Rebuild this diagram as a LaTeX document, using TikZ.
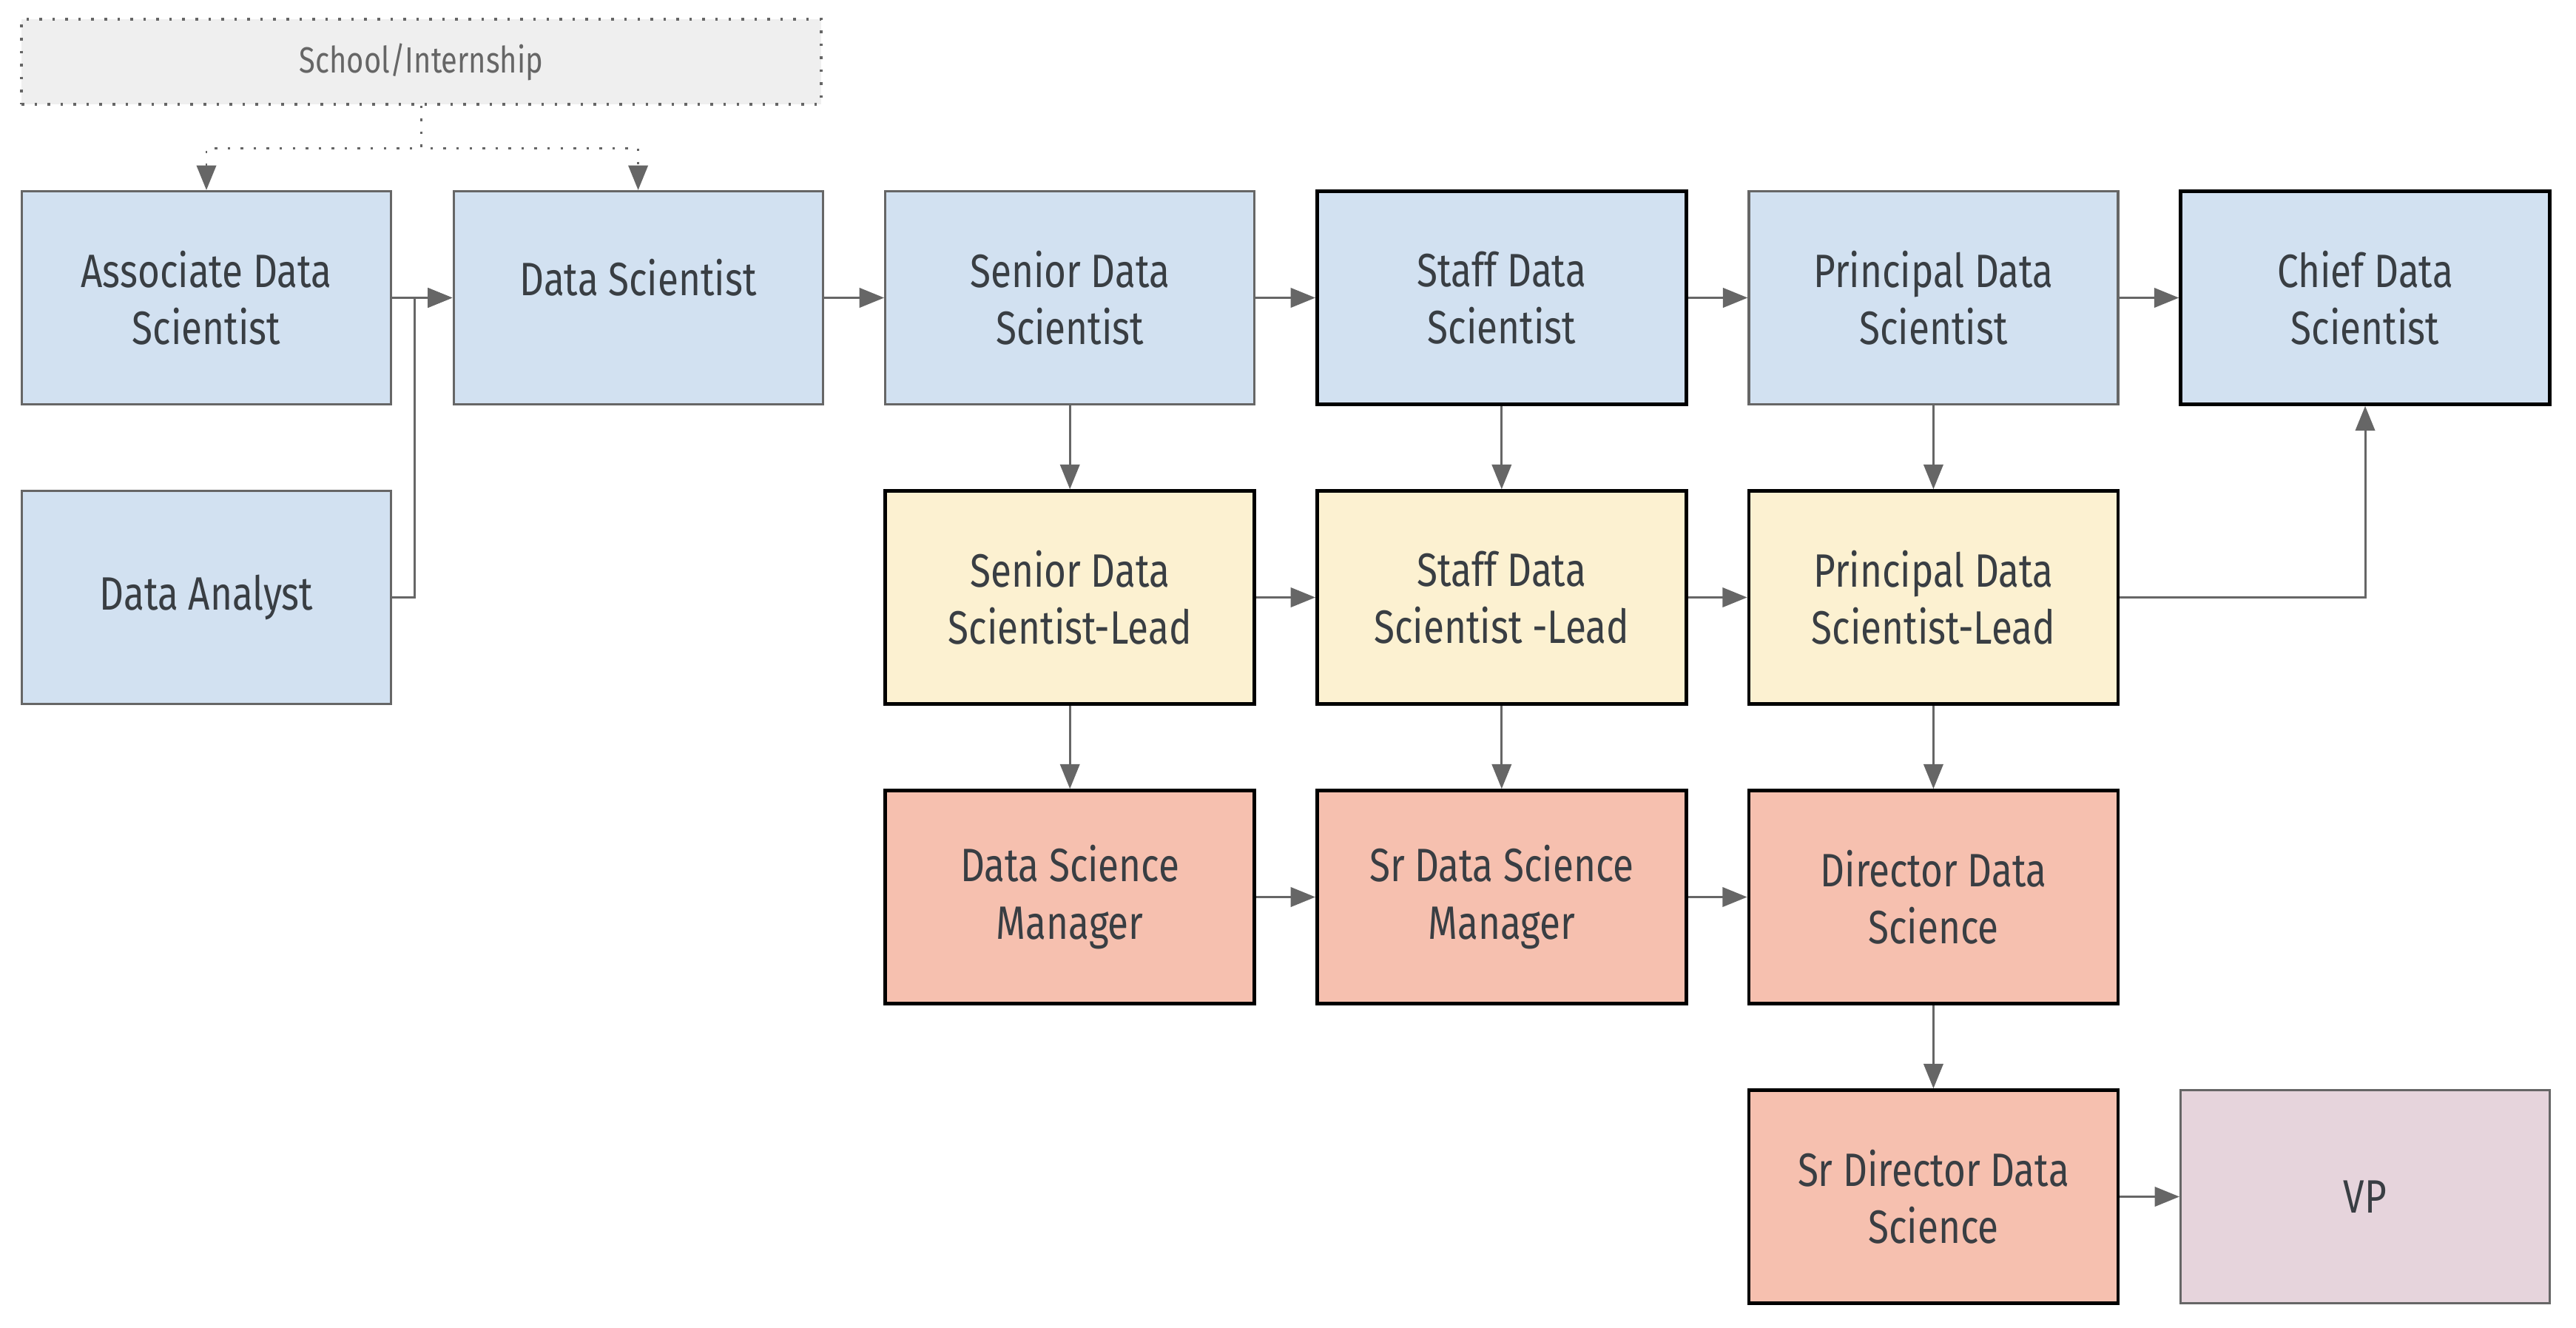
\documentclass[tikz,border=0pt]{standalone}
\usepackage{fontspec}
\setmainfont{Fira Sans}[FakeStretch=0.81]
\usetikzlibrary{arrows.meta}
\definecolor{txt}{HTML}{393E43}
\definecolor{edge}{HTML}{666666}
\definecolor{blu}{HTML}{D2E1F1}
\definecolor{yel}{HTML}{FCF1D1}
\definecolor{sal}{HTML}{F6C0AF}
\definecolor{vio}{HTML}{E6D4DC}
\definecolor{gry}{HTML}{EFEFEF}

\begin{document}
\begin{tikzpicture}[
    box/.style={rectangle, minimum width=4.99cm, minimum height=2.88cm, inner sep=0pt,
        align=center, text=txt, font=\fontsize{18}{22}\selectfont},
    soft/.style={box, draw=edge, line width=0.9pt},
    hard/.style={box, draw=black, line width=1.3pt},
    arr/.style={draw=edge, line width=0.85pt, -{Triangle[length=9.5pt,width=7.5pt]}},
    dotarrow/.style={arr, dash pattern=on 1pt off 4pt}
]
    \useasboundingbox (0,0) rectangle (34.82,17.94);

    \node (s) at (5.695, 17.105) [rectangle, draw=edge, fill=gry, line width=0.9pt, dash pattern=on 1pt off 4pt,
        minimum width=10.81cm, minimum height=1.15cm, text=edge, font=\fontsize{14}{17}\selectfont] {School/Internship};

    \node (a) at (2.79, 13.915) [soft, fill=blu] {Associate Data\\Scientist};
    \node (b) at (8.626, 13.915) [soft, fill=blu, text depth=16pt] {Data Scientist};
    \node (c) at (14.462, 13.915) [soft, fill=blu] {Senior Data\\Scientist};
    \node (d) at (20.298, 13.915) [hard, fill=blu] {Staff Data\\Scientist};
    \node (e) at (26.134, 13.915) [soft, fill=blu] {Principal Data\\Scientist};
    \node (f) at (31.97, 13.915) [hard, fill=blu] {Chief Data\\Scientist};

    \node (g) at (2.79, 9.865) [soft, fill=blu] {Data Analyst};
    \node (h) at (14.462, 9.865) [hard, fill=yel] {Senior Data\\Scientist-Lead};
    \node (i) at (20.298, 9.865) [hard, fill=yel] {Staff Data\\Scientist -Lead};
    \node (j) at (26.134, 9.865) [hard, fill=yel] {Principal Data\\Scientist-Lead};

    \node (k) at (14.462, 5.815) [hard, fill=sal] {Data Science\\Manager};
    \node (l) at (20.298, 5.815) [hard, fill=sal] {Sr Data Science\\Manager};
    \node (m) at (26.134, 5.815) [hard, fill=sal] {Director Data\\Science};

    \node (n) at (26.134, 1.765) [hard, fill=sal] {Sr Director Data\\Science};
    \node (o) at (31.97, 1.765) [soft, fill=vio] {VP};

    \draw [dotarrow] (s.south) -- ++(0,-0.58) -| (a.north);
    \draw [dotarrow] (s.south) -- ++(0,-0.58) -| (b.north);

    \draw [arr] (a) to (b);
    \draw [arr] (g.east) -- ++(0.3,0) |- (b.west);
    \draw [arr] (b) to (c);
    \draw [arr] (c) to (d);
    \draw [arr] (d) to (e);
    \draw [arr] (e) to (f);

    \draw [arr] (c) to (h);
    \draw [arr] (d) to (i);
    \draw [arr] (e) to (j);
    \draw [arr] (h) to (i);
    \draw [arr] (i) to (j);
    \draw [arr] (j.east) -| (f.south);

    \draw [arr] (h) to (k);
    \draw [arr] (i) to (l);
    \draw [arr] (j) to (m);
    \draw [arr] (k) to (l);
    \draw [arr] (l) to (m);

    \draw [arr] (m) to (n);
    \draw [arr] (n) to (o);

\end{tikzpicture}
\end{document}
